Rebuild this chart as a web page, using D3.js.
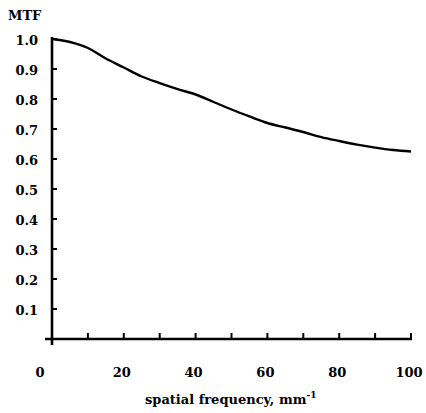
<!DOCTYPE html>
<html>
<head>
<meta charset="utf-8">
<script src="https://cdn.jsdelivr.net/npm/d3@7"></script>
<style>
  html, body { margin: 0; padding: 0; background: #fff; }
  text { font-family: "DejaVu Serif", "Liberation Serif", serif; font-weight: bold; fill: #000; }
</style>
</head>
<body>
<svg id="chart" width="426" height="413"></svg>
<script>
// Modulation transfer function versus spatial frequency
const frequency = [0, 5, 10, 15, 20, 25, 30, 35, 40, 45, 50, 55, 60, 65, 70, 75, 80, 85, 90, 95, 100];
const mtf = [1.0, 0.99, 0.97, 0.935, 0.905, 0.875, 0.853, 0.833, 0.815, 0.79, 0.765, 0.742, 0.72, 0.705, 0.69, 0.673, 0.66, 0.648, 0.638, 0.63, 0.625];
const xTickLabels = [0, 20, 40, 60, 80, 100];
const xMinorTicks = [10, 20, 30, 40, 50, 60, 70, 80, 90, 100];
const yTickValues = [0.1, 0.2, 0.3, 0.4, 0.5, 0.6, 0.7, 0.8, 0.9, 1.0];

const svg = d3.select("#chart");
const x = d3.scaleLinear().domain([0, 100]).range([52, 411]);
const y = d3.scaleLinear().domain([0, 1]).range([339, 39]);

// y axis line and ticks
svg.append("line")
  .attr("x1", x(0)).attr("x2", x(0))
  .attr("y1", y(1.0) - 2).attr("y2", y(0) + 6)
  .attr("stroke", "#000").attr("stroke-width", 2.6);
svg.selectAll(".ytick").data(yTickValues).enter().append("line")
  .attr("x1", x(0)).attr("x2", x(0) + 5)
  .attr("y1", d => y(d)).attr("y2", d => y(d))
  .attr("stroke", "#000").attr("stroke-width", 2);
svg.selectAll(".ylab").data(yTickValues).enter().append("text")
  .attr("x", 38).attr("y", d => y(d) + 6)
  .attr("text-anchor", "end").attr("font-size", 13)
  .text(d => d.toFixed(1));

// x axis line and ticks
svg.append("line")
  .attr("x1", x(0) - 7).attr("x2", x(100) + 1)
  .attr("y1", y(0)).attr("y2", y(0))
  .attr("stroke", "#000").attr("stroke-width", 2.4);
svg.selectAll(".xtick").data(xMinorTicks).enter().append("line")
  .attr("x1", d => x(d)).attr("x2", d => x(d))
  .attr("y1", y(0)).attr("y2", y(0) - 6)
  .attr("stroke", "#000").attr("stroke-width", 2);
svg.selectAll(".xlab").data(xTickLabels).enter().append("text")
  .attr("x", d => d === 0 ? x(d) - 12 : x(d) - 2)
  .attr("y", 377)
  .attr("text-anchor", "middle").attr("font-size", 13)
  .text(d => d);

// axis titles
svg.append("text").attr("x", 8).attr("y", 20).attr("font-size", 13).text("MTF");
const xt = svg.append("text").attr("x", 145).attr("y", 404)
  .attr("font-size", 13);
xt.append("tspan").text("spatial frequency, mm");
xt.append("tspan").attr("dy", -6).attr("font-size", 9).text("-1");

// curve
const line = d3.line().x((d, i) => x(frequency[i])).y(d => y(d)).curve(d3.curveMonotoneX);
svg.append("path").datum(mtf)
  .attr("d", line)
  .attr("fill", "none").attr("stroke", "#000").attr("stroke-width", 2.4);
</script>
</body>
</html>
